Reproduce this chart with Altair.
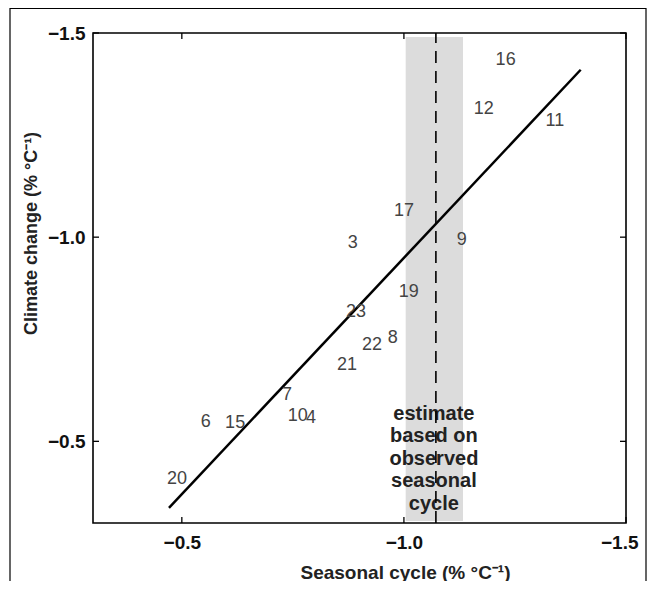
import altair as alt
import pandas as pd

# --- data ---
model_ids = ["16", "12", "11", "17", "9", "3", "19", "23", "8", "22", "21",
             "7", "10", "4", "6", "15", "20"]
seasonal = [-1.229, -1.180, -1.340, -1.000, -1.130, -0.885, -1.011, -0.892,
            -0.975, -0.928, -0.872, -0.737, -0.761, -0.791, -0.554, -0.620, -0.489]
climate = [-1.434, -1.315, -1.285, -1.063, -0.994, -0.985, -0.865, -0.816,
           -0.752, -0.735, -0.686, -0.613, -0.562, -0.557, -0.547, -0.544, -0.408]

fit_x = [-0.471, -1.398]
fit_y = [-0.337, -1.410]

obs_estimate = -1.072
obs_low = -1.004
obs_high = -1.133
band_y = [-0.305, -1.49]
rule_y = [-0.3, -1.5]
text_y = -0.567
tick_values = [-0.5, -1.0, -1.5]
estimate_text = "estimate\nbased on\nobserved\nseasonal\ncycle"

W, H = 533, 490
FONT = "Liberation Sans"

xs = alt.Scale(domain=[-1.5, -0.3], reverse=True, nice=False, zero=False)
ys = alt.Scale(domain=[-1.5, -0.3], reverse=True, nice=False, zero=False)
xax = alt.Axis(values=tick_values, title="Seasonal cycle (% °C⁻¹)", labelFlush=True,
               labelFlushOffset=12, labelPadding=10, titleX=312, titleY=49,
               titleBaseline="middle", titleFontSize=19)
yax = alt.Axis(values=tick_values, title="Climate change (% °C⁻¹)", labelPadding=8,
               titleX=-62, titleY=200, titleBaseline="middle", titleAngle=-90,
               titleFontSize=18)

pts = pd.DataFrame({"id": model_ids, "x": seasonal, "y": climate})
fit = pd.DataFrame({"x": fit_x, "y": fit_y})
band = pd.DataFrame({"x": [obs_low], "x2": [obs_high], "y": [band_y[0]], "y2": [band_y[1]]})
obs = pd.DataFrame({"x": [obs_estimate], "y": [rule_y[0]], "y2": [rule_y[1]],
                    "ty": [text_y], "t": [estimate_text]})
ticks = pd.DataFrame({"v": tick_values})
one = pd.DataFrame({"k": [0]})

band_layer = alt.Chart(band).mark_rect(color="#dcdcdc").encode(
    x=alt.X("x:Q", scale=xs, axis=xax), x2="x2:Q",
    y=alt.Y("y:Q", scale=ys, axis=yax), y2="y2:Q")

text_layer = alt.Chart(obs).mark_text(
    lineBreak="\n", font=FONT, fontSize=20, fontWeight="bold", color="#222",
    align="center", baseline="middle", lineHeight=22.5, dx=-2
).encode(
    x=alt.X("x:Q", scale=xs, axis=xax),
    y=alt.Y("ty:Q", scale=ys, axis=yax),
    text="t:N")

dash_layer = alt.Chart(obs).mark_rule(color="black", strokeWidth=1.6, strokeDash=[12, 8]).encode(
    x=alt.X("x:Q", scale=xs, axis=xax),
    y=alt.Y("y:Q", scale=ys, axis=yax), y2="y2:Q")

fit_layer = alt.Chart(fit).mark_line(color="black", strokeWidth=2.5).encode(
    x=alt.X("x:Q", scale=xs, axis=xax),
    y=alt.Y("y:Q", scale=ys, axis=yax))

label_layer = alt.Chart(pts).mark_text(
    font=FONT, fontSize=18, color="#444", align="center", baseline="middle"
).encode(
    x=alt.X("x:Q", scale=xs, axis=xax),
    y=alt.Y("y:Q", scale=ys, axis=yax),
    text="id:N")

tick_style = dict(color="black", strokeWidth=1.3)
xt_bottom = alt.Chart(ticks).mark_rule(**tick_style).encode(
    x=alt.X("v:Q", scale=xs, axis=xax), y=alt.value(H), y2=alt.value(H - 6))
xt_top = alt.Chart(ticks).mark_rule(**tick_style).encode(
    x=alt.X("v:Q", scale=xs, axis=xax), y=alt.value(0), y2=alt.value(6))
yt_left = alt.Chart(ticks).mark_rule(**tick_style).encode(
    y=alt.Y("v:Q", scale=ys, axis=yax), x=alt.value(0), x2=alt.value(6))
yt_right = alt.Chart(ticks).mark_rule(**tick_style).encode(
    y=alt.Y("v:Q", scale=ys, axis=yax), x=alt.value(W), x2=alt.value(W - 6))

border = alt.Chart(one).mark_rect(fillOpacity=0, stroke="black", strokeWidth=1.2).encode(
    x=alt.value(-83), x2=alt.value(553), y=alt.value(-24.5), y2=alt.value(620))

chart = alt.layer(
    band_layer, text_layer, dash_layer, fit_layer, label_layer,
    xt_bottom, xt_top, yt_left, yt_right, border
).properties(
    width=W, height=H,
    autosize=alt.AutoSizeParams(type="none"),
    padding={"left": 85, "top": 25, "right": 21, "bottom": 58},
    background="white",
).configure_view(
    stroke="black", strokeWidth=1.6
).configure_axis(
    domain=False, ticks=False, grid=False,
    labelFont=FONT, labelFontSize=19, labelFontWeight="bold", labelColor="#111",
    titleFont=FONT, titleFontWeight="bold", titleColor="#222",
)

chart.save("out.html", embed_options={"renderer": "svg", "actions": False})
